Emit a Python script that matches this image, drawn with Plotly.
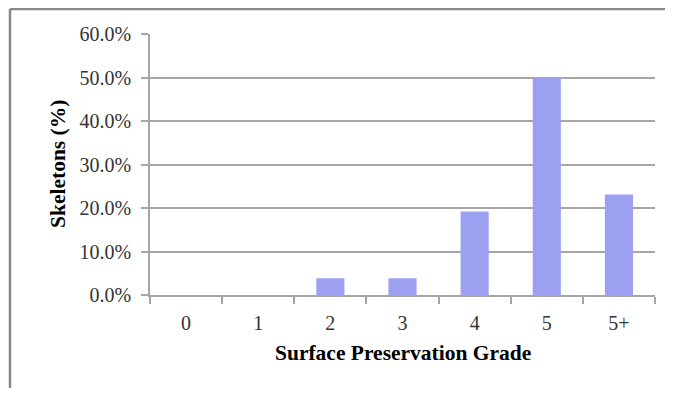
import plotly.graph_objects as go

grades = ["0", "1", "2", "3", "4", "5", "5+"]
skeletons_pct = [0.0, 0.0, 0.0385, 0.0385, 0.192, 0.50, 0.231]
y_ticks = [0.0, 0.1, 0.2, 0.3, 0.4, 0.5, 0.6]

OFF = 8  # default page body margin
W, H = 673 - 2 * OFF, 396 - 2 * OFF
# plot area in window pixels: x 150..655, y 34..295
L = 150 - OFF
T = 34 - OFF
R = W - (655 - OFF)
B = H - (295 - OFF)
pw, ph = W - L - R, H - T - B


def px(xw):
    return (xw - OFF - L) / pw


def py(yw):
    return (H - B - (yw - OFF)) / ph


fig = go.Figure(go.Bar(
    x=grades, y=skeletons_pct,
    marker=dict(color="#9CA0F1", line=dict(width=0)),
))

font_fam = "Liberation Serif, Times New Roman, serif"
fig.update_layout(
    width=W, height=H,
    margin=dict(l=L, r=R, t=T, b=B),
    paper_bgcolor="white", plot_bgcolor="white",
    bargap=0.61,
    showlegend=False,
    font=dict(family=font_fam, size=20, color="#333333"),
)
fig.update_yaxes(
    range=[0, 0.6], tickvals=y_ticks, tickformat=".1%",
    showgrid=True, gridcolor="#A6A6A6", gridwidth=1.5,
    showline=True, linecolor="#A6A6A6", linewidth=1.5,
    ticks="outside", ticklen=7, tickcolor="#A6A6A6", tickwidth=1.5,
    zeroline=False, ticklabelstandoff=6,
)
fig.update_xaxes(
    type="category", tickson="boundaries",
    showline=True, linecolor="#A6A6A6", linewidth=1.5,
    ticks="outside", ticklen=7, tickcolor="#A6A6A6", tickwidth=1.5,
    showgrid=False, ticklabelstandoff=9,
)

fig.add_annotation(text="<b>Surface Preservation Grade</b>", xref="paper", yref="paper",
                   x=px(402.5), y=py(353), showarrow=False,
                   xanchor="center", yanchor="middle",
                   font=dict(family=font_fam, size=21.5, color="black"))
fig.add_annotation(text="<b>Skeletons (%)</b>", xref="paper", yref="paper",
                   x=px(58), y=py(164), showarrow=False, textangle=-90,
                   xanchor="center", yanchor="middle",
                   font=dict(family=font_fam, size=21.5, color="black"))

xl = px(10)
yt = py(9)
fig.add_shape(type="line", xref="paper", yref="paper", x0=xl, x1=xl, y0=py(420), y1=yt,
              line=dict(color="#888888", width=2.5))
fig.add_shape(type="line", xref="paper", yref="paper", x0=xl, x1=px(700), y0=yt, y1=yt,
              line=dict(color="#888888", width=2.5))

fig.write_html("out.html")
